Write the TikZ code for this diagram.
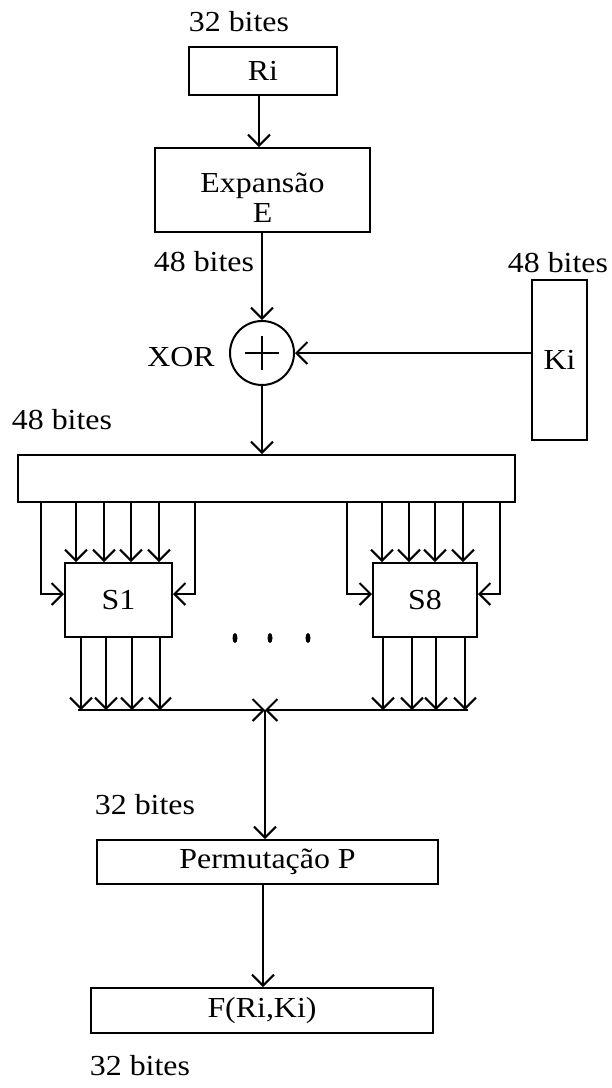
\documentclass[tikz,border=0pt]{standalone}
\usepackage{fontspec}
\setmainfont{Liberation Serif}[FakeStretch=1.1]
\usetikzlibrary{arrows.meta}
\begin{document}
\begin{tikzpicture}[x=1pt,y=-1pt,
  line width=2pt,
  every node/.style={font=\fontsize{29}{28}\selectfont, inner sep=0pt},
  box/.style={draw, rectangle},
  arr/.style={-{Straight Barb[length=11pt,width=22pt]}}]
\useasboundingbox (0,0) rectangle (612,1088);
% nodes
\node (l32a) at (239,22) {32 bites};
\node[box, minimum width=148pt, minimum height=48pt] (Ri) at (263,71) {Ri};
\node[box, minimum width=215pt, minimum height=84pt, align=center] (Exp) at (262.5,190) {\rule{0pt}{34pt}Expansão\\[2pt]E};
\node (l48a) at (204,262) {48 bites};
\node[draw, circle, minimum size=64pt] (X) at (262,353) {};
\draw ([xshift=-17pt]X.center) -- ([xshift=17pt]X.center);
\draw ([yshift=-17pt]X.center) -- ([yshift=17pt]X.center);
\node (xorl) at (181,357) {XOR};
\node[box, minimum width=55pt, minimum height=160pt] (Ki) at (559.5,360) {Ki};
\node (l48b) at (558,263) {48 bites};
\node (l48c) at (62,420) {48 bites};
\node[box, minimum width=497pt, minimum height=47pt] (W) at (266.5,478.5) {};
\node[box, minimum width=107pt, minimum height=74pt] (S1) at (118.5,600) {S1};
\node[box, minimum width=104pt, minimum height=74pt] (S8) at (425,600) {S8};
\fill (235,638) ellipse [x radius=2.5pt, y radius=5pt];
\fill (270,638) ellipse [x radius=2.5pt, y radius=5pt];
\fill (308,638) ellipse [x radius=2.5pt, y radius=5pt];
\coordinate (J) at (265,710);
\coordinate (BL) at (78,710);
\coordinate (BR) at (468,710);
\node (l32m) at (145,805) {32 bites};
\node[box, minimum width=341pt, minimum height=44pt] (P) at (267.5,862) {Permutação P};
\node[box, minimum width=342pt, minimum height=45pt] (F) at (262,1010.5) {F(Ri,Ki)};
\node (l32b) at (140,1066) {32 bites};
% connectors
\draw[arr] (Ri.south -| 259,0) -- (Exp.north -| 259,0);
\draw[arr] (Exp.south -| X.north) -- (X.north);
\draw[arr] (Ki.west |- X) -- (X.east);
\draw[arr] (X.south) -- (W.north -| X.south);
\foreach \x in {76,104,131,159} \draw[arr] (W.south -| \x,0) -- (S1.north -| \x,0);
\draw[arr] (W.south -| 41,0) |- ([yshift=6pt]S1.west);
\draw[arr] (W.south -| 195,0) |- ([yshift=6pt]S1.east);
\foreach \x in {382,409,435,463} \draw[arr] (W.south -| \x,0) -- (S8.north -| \x,0);
\draw[arr] (W.south -| 347,0) |- ([yshift=6pt]S8.west);
\draw[arr] (W.south -| 500,0) |- ([yshift=6pt]S8.east);
\foreach \x in {81,106,132,160} \draw[arr] (S1.south -| \x,0) -- (J -| \x,0);
\foreach \x in {383,412,436,465} \draw[arr] (S8.south -| \x,0) -- (J -| \x,0);
\draw[arr] (BL) -- (J);
\draw[arr] (BR) -- (J);
\draw[arr] (J) -- (P.north -| J);
\draw[arr] (P.south -| 263,0) -- (F.north -| 263,0);
\end{tikzpicture}
\end{document}
